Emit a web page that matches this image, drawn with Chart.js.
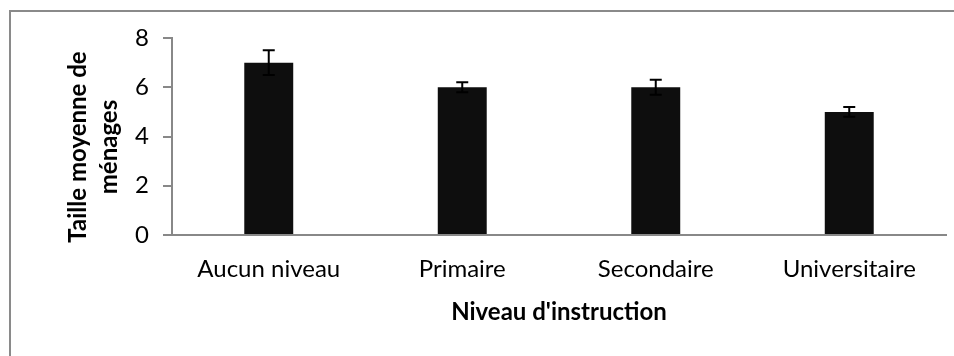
<!DOCTYPE html>
<html>
<head>
<meta charset="utf-8">
<script src="https://cdn.jsdelivr.net/npm/chart.js@4/dist/chart.umd.min.js"></script>
<style>
  html, body { margin: 0; padding: 0; background: #fff; overflow: hidden; }
  #wrap { position: relative; width: 954px; height: 356px; }
  #frame {
    position: absolute; left: 9px; top: 10px;
    width: 1000px; height: 400px;
    border: 2px solid #8a8a8a;
  }
  #chart { position: absolute; left: 0; top: 0; }
</style>
</head>
<body>
<div id="wrap">
  <div id="frame"></div>
  <canvas id="chart" width="954" height="356"></canvas>
</div>
<script>
// data
const categories = ['Aucun niveau', 'Primaire', 'Secondaire', 'Universitaire'];
const meanSize = [7, 6, 6, 5];
const errSize = [0.5, 0.2, 0.3, 0.2];
const yTickLabels = ['0', '2', '4', '6', '8'];
const xTitle = "Niveau d'instruction";
const yTitle = ['Taille moyenne de', 'ménages'];

const FONT = 'Lato, "Open Sans", sans-serif';
const AXIS_GREY = '#888888';

// error bars drawn from the bar elements and the y scale
const errorBars = {
    id: 'errorBars',
    afterDatasetsDraw(chart) {
        const ctx = chart.ctx;
        const yScale = chart.scales.y;
        const meta = chart.getDatasetMeta(0);
        ctx.save();
        ctx.strokeStyle = '#000';
        ctx.lineWidth = 2;
        meta.data.forEach((bar, i) => {
            const x = bar.x;
            const top = yScale.getPixelForValue(meanSize[i] + errSize[i]);
            const bottom = yScale.getPixelForValue(meanSize[i] - errSize[i]);
            ctx.beginPath();
            ctx.moveTo(x, top);
            ctx.lineTo(x, bottom);
            ctx.moveTo(x - 6, top);
            ctx.lineTo(x + 6, top);
            ctx.moveTo(x - 6, bottom);
            ctx.lineTo(x + 6, bottom);
            ctx.stroke();
        });
        ctx.restore();
    }
};

// two-line rotated y title, centred a bit below the plot middle like the original
const yTitlePlugin = {
    id: 'yTitle',
    afterDraw(chart) {
        const ctx = chart.ctx;
        ctx.save();
        ctx.translate(0, 147);
        ctx.rotate(-Math.PI / 2);
        ctx.font = 'bold 24px ' + FONT;
        ctx.fillStyle = '#000';
        ctx.textAlign = 'center';
        ctx.textBaseline = 'alphabetic';
        ctx.fillText(yTitle[0], 0, 86);
        ctx.fillText(yTitle[1], 0, 117);
        ctx.restore();
    }
};

const ctx = document.getElementById('chart').getContext('2d');
new Chart(ctx, {
    type: 'bar',
    data: {
        labels: categories,
        datasets: [{
            data: meanSize,
            backgroundColor: '#0e0e0e',
            borderWidth: 0,
            categoryPercentage: 1,
            barPercentage: 0.253
        }]
    },
    options: {
        responsive: false,
        animation: false,
        layout: { padding: { top: 38, right: 8, left: 0, bottom: 0 } },
        plugins: {
            legend: { display: false },
            tooltip: { enabled: false }
        },
        scales: {
            x: {
                grid: { display: false },
                border: { display: true, color: AXIS_GREY, width: 2 },
                ticks: {
                    color: '#000',
                    padding: 12,
                    maxRotation: 0,
                    font: { family: FONT, size: 24 }
                },
                title: {
                    display: true,
                    text: xTitle,
                    color: '#000',
                    padding: { top: 0, bottom: 29 },
                    font: { family: FONT, size: 24, weight: 'bold' }
                },
                afterFit(scale) { scale.height = 121; }
            },
            y: {
                min: 0,
                max: 8,
                grid: {
                    display: true,
                    drawOnChartArea: false,
                    drawTicks: true,
                    tickLength: 9,
                    color: AXIS_GREY,
                    lineWidth: 2
                },
                border: { display: true, color: AXIS_GREY, width: 2 },
                ticks: {
                    stepSize: 2,
                    color: '#000',
                    padding: 14,
                    font: { family: FONT, size: 24 },
                    callback: (v, i) => yTickLabels[i]
                },
                afterFit(scale) { scale.width = 172; }
            }
        }
    },
    plugins: [errorBars, yTitlePlugin]
});
</script>
</body>
</html>
